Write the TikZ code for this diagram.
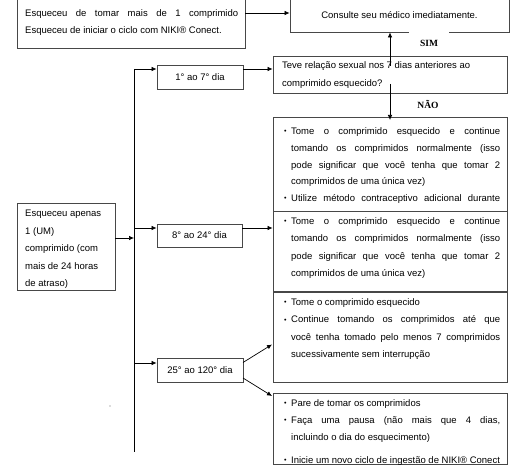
\documentclass[tikz,border=0pt]{standalone}
\usepackage{fontspec}
\setmainfont{Liberation Sans}
\newfontfamily\serifbold{Liberation Serif}
\usetikzlibrary{arrows.meta,calc}
\newcommand{\bul}{\llap{\raisebox{0.8pt}{\scalebox{0.75}{•}}\hspace{4.5pt}}}
\newcommand{\J}[1]{\hbox to 209pt{#1}}
\newcommand{\N}[1]{\hbox{#1}}
\newcommand{\blines}[2]{\vtop{\baselineskip=#1\relax #2}}
\begin{document}
\begin{tikzpicture}[x=1pt,y=-1pt,
  box/.style={draw=black!72,line width=0.8pt,fill=white,inner sep=0pt,rectangle},
  ln/.style={line width=0.7pt,draw=black},
  arr/.style={ln,-{Latex[length=5pt,width=4.5pt]}},
  txt/.style={inner sep=0pt,anchor=base west,font=\fontsize{9.5}{11}\selectfont},
  ctxt/.style={inner sep=0pt,font=\fontsize{9.5}{11}\selectfont},
  lab/.style={font=\serifbold\bfseries\fontsize{9.5}{11}\selectfont,inner sep=0pt},
  ]
\useasboundingbox (0,0) rectangle (524,468);

% top boxes
\node[box,minimum width=228pt,minimum height=49pt] (tl) at (131,23.5) {};
\node[txt] (tltext) at (25,17) {\blines{17pt}{\hbox to 213pt{Esqueceu de tomar mais de 1 comprimido}\N{Esqueceu de iniciar o ciclo com NIKI® Conect.}}};
\node[box,minimum width=219pt,minimum height=33pt] (cons) at (399.5,15.5) {};
\node[ctxt] (constext) at (399.5,15) {Consulte seu médico imediatamente.};
\node[lab,fill=white,minimum width=40pt,minimum height=22pt] (sim) at (429,43) {SIM};

% question
\node[box,minimum width=234pt,minimum height=37pt] (q) at (390,74.5) {};
\node[txt] (qtext) at (282,68.5) {\blines{18pt}{\N{Teve relação sexual nos 7 dias anteriores ao}\N{comprimido esquecido?}}};
\node[lab] (nao) at (428,104) {NÃO};

% box 1
\node[box,minimum width=234pt,minimum height=96pt] (b1) at (390,165) {};
\node[txt] (b1text) at (291,134.5) {\blines{16.8pt}{%
\J{\bul Tome o comprimido esquecido e continue}%
\J{tomando os comprimidos normalmente (isso}%
\J{pode significar que você tenha que tomar 2}%
\N{comprimidos de uma única vez)}%
\J{\bul Utilize método contraceptivo adicional durante}}};

% box 2
\node[box,minimum width=234pt,minimum height=80pt] (b2) at (390,251) {};
\node[txt] (b2text) at (291,224.5) {\blines{17.3pt}{%
\J{\bul Tome o comprimido esquecido e continue}%
\J{tomando os comprimidos normalmente (isso}%
\J{pode significar que você tenha que tomar 2}%
\N{comprimidos de uma única vez)}}};

% box 3
\node[box,minimum width=234pt,minimum height=90pt] (b3) at (390,337) {};
\node[txt] (b3text) at (291,305.5) {\blines{17.3pt}{%
\N{\bul Tome o comprimido esquecido}%
\J{\bul Continue tomando os comprimidos até que}%
\J{você tenha tomado pelo menos 7 comprimidos}%
\N{sucessivamente sem interrupção}}};

% box 4
\node[box,minimum width=234pt,minimum height=71pt] (b4) at (390,428.5) {};
\node[txt] (b4text) at (291,406.5) {\blines{17pt}{%
\N{\bul Pare de tomar os comprimidos}%
\J{\bul Faça uma pausa (não mais que 4 dias,}%
\N{incluindo o dia do esquecimento)}%
\vskip 6pt
\N{\bul Inicie um novo ciclo de ingestão de NIKI® Conect}}};

% day boxes
\node[box,minimum width=86pt,minimum height=24pt] (d1) at (200,77) {};
\node[ctxt] (d1text) at (200,77) {1° ao 7° dia};
\node[box,minimum width=85pt,minimum height=23pt] (d2) at (199.5,235.5) {};
\node[ctxt] (d2text) at (199.5,235.5) {8° ao 24° dia};
\node[box,minimum width=86pt,minimum height=24pt] (d3) at (200,370) {};
\node[ctxt] (d3text) at (200,370) {25° ao 120° dia};

% left box
\node[box,minimum width=98pt,minimum height=87pt] (e) at (66,246.5) {};
\node[txt] (etext) at (25,216.5) {\blines{17.5pt}{\N{Esqueceu apenas}\N{1 (UM)}\N{comprimido (com}\N{mais de 24 horas}\N{de atraso)}}};

% coordinates
\coordinate (tlout) at (245,13);
\coordinate (vt) at (134,69);
\coordinate (vb) at (134,452);
\coordinate (v2) at (134,228);
\coordinate (v3) at (134,363);
\coordinate (vin) at (134,238);
\coordinate (simstart) at (390,66);
\coordinate (naostart) at (390,84);
\coordinate (naoend) at (390,120);
\coordinate (d3up) at (243,362.5);
\coordinate (d3dn) at (243,378);
\coordinate (b3in) at (272,344.5);
\coordinate (b4in) at (272,396);

% connectors
\draw[arr] (tlout) -- (tlout -| cons.west);
\draw[arr] (simstart) -- (simstart |- cons.south);
\draw[arr] (naostart) -- (naoend);
\draw[ln] (vt) -- (vb);
\draw[arr] (vt) -- (vt -| d1.west);
\draw[arr] (v2) -- (v2 -| d2.west);
\draw[arr] (v3) -- (v3 -| d3.west);
\draw[arr] (vin -| e.east) -- (vin);
\draw[arr] (vt -| d1.east) -- (vt -| q.west);
\draw[arr] (v2 -| d2.east) -- (v2 -| b2.west);
\draw[arr] (d3up) -- (b3in);
\draw[arr] (d3dn) -- (b4in);

% stray dot
\fill[black!60] (110,406) circle (0.6pt);
\end{tikzpicture}
\end{document}
